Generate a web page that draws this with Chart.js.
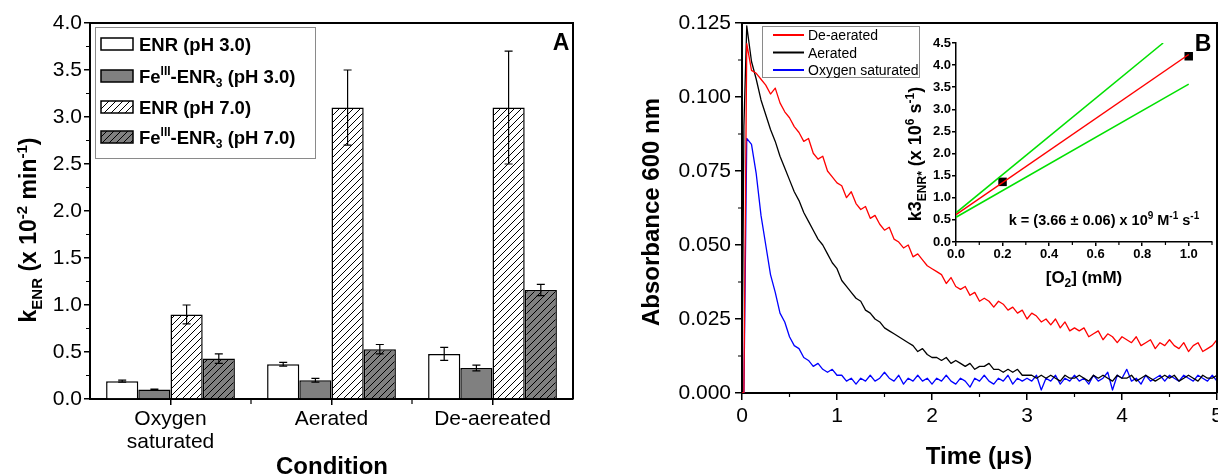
<!DOCTYPE html>
<html>
<head>
<meta charset="utf-8">
<script src="https://cdn.jsdelivr.net/npm/chart.js@4.4.1/dist/chart.umd.min.js"></script>
<style>
  html, body { margin: 0; padding: 0; background: #fff; }
  #wrap { position: relative; width: 1218px; height: 474px; overflow: hidden; }
  #wrap canvas { position: absolute; left: 0; top: 0; }
</style>
</head>
<body>
<div id="wrap">
  <canvas id="barChart" width="1218" height="474"></canvas>
  <canvas id="decayChart" width="1218" height="474"></canvas>
  <canvas id="insetChart" width="1218" height="474"></canvas>
</div>
<script>
'use strict';

// ---- panel A : k_ENR (x 10^-2 min^-1) per condition
const conditions = [['Oxygen', 'saturated'], 'Aerated', 'De-aereated'];
const enrPh3 = [0.19, 0.37, 0.48];
const enrPh3Err = [0.01, 0.02, 0.07];
const feEnrPh3 = [0.10, 0.20, 0.33];
const feEnrPh3Err = [0.005, 0.02, 0.03];
const enrPh7 = [0.90, 3.10, 3.10];
const enrPh7Err = [0.10, 0.40, 0.60];
const feEnrPh7 = [0.43, 0.53, 1.16];
const feEnrPh7Err = [0.05, 0.05, 0.06];

// ---- panel B : transient absorbance at 600 nm, time in us
const times = [
  0, 0.02,
  0.05, 0.10, 0.15, 0.20, 0.25, 0.30, 0.35, 0.40, 0.45, 0.50,
  0.55, 0.60, 0.65, 0.70, 0.75, 0.80, 0.85, 0.90, 0.95, 1.00,
  1.05, 1.10, 1.15, 1.20, 1.25, 1.30, 1.35, 1.40, 1.45, 1.50,
  1.55, 1.60, 1.65, 1.70, 1.75, 1.80, 1.85, 1.90, 1.95, 2.00,
  2.05, 2.10, 2.15, 2.20, 2.25, 2.30, 2.35, 2.40, 2.45, 2.50,
  2.55, 2.60, 2.65, 2.70, 2.75, 2.80, 2.85, 2.90, 2.95, 3.00,
  3.05, 3.10, 3.15, 3.20, 3.25, 3.30, 3.35, 3.40, 3.45, 3.50,
  3.55, 3.60, 3.65, 3.70, 3.75, 3.80, 3.85, 3.90, 3.95, 4.00,
  4.05, 4.10, 4.15, 4.20, 4.25, 4.30, 4.35, 4.40, 4.45, 4.50,
  4.55, 4.60, 4.65, 4.70, 4.75, 4.80, 4.85, 4.90, 4.95, 5.00
];
const deaerated = [
  0, 0,
  0.118, 0.109, 0.108, 0.106, 0.104, 0.101, 0.103, 0.098, 0.095, 0.093,
  0.090, 0.088, 0.085, 0.086, 0.081, 0.079, 0.080, 0.075, 0.073, 0.071,
  0.070, 0.066, 0.068, 0.064, 0.062, 0.063, 0.059, 0.060, 0.057, 0.055,
  0.056, 0.052, 0.051, 0.049, 0.050, 0.046, 0.047, 0.045, 0.043, 0.042,
  0.041, 0.040, 0.037, 0.039, 0.036, 0.035, 0.036, 0.033, 0.034, 0.031,
  0.032, 0.031, 0.029, 0.031, 0.030, 0.028, 0.029, 0.027, 0.028, 0.025,
  0.027, 0.026, 0.024, 0.025, 0.023, 0.025, 0.022, 0.024, 0.021, 0.022,
  0.021, 0.022, 0.019, 0.020, 0.021, 0.018, 0.020, 0.019, 0.017, 0.019,
  0.018, 0.017, 0.019, 0.016, 0.017, 0.018, 0.015, 0.017, 0.016, 0.018,
  0.016, 0.015, 0.017, 0.014, 0.016, 0.017, 0.014, 0.015, 0.016, 0.018
];
const aerated = [
  0, 0.090,
  0.124, 0.112, 0.106, 0.099, 0.094, 0.089, 0.085, 0.080, 0.076, 0.072,
  0.068, 0.065, 0.061, 0.058, 0.055, 0.052, 0.050, 0.047, 0.044, 0.042,
  0.038, 0.036, 0.034, 0.032, 0.031, 0.028, 0.027, 0.025, 0.024, 0.022,
  0.021, 0.020, 0.019, 0.018, 0.017, 0.016, 0.014, 0.015, 0.013, 0.012,
  0.012, 0.011, 0.012, 0.010, 0.011, 0.010, 0.009, 0.010, 0.008, 0.009,
  0.009, 0.010, 0.008, 0.008, 0.007, 0.008, 0.007, 0.008, 0.006, 0.006,
  0.006, 0.005, 0.006, 0.005, 0.006, 0.005, 0.004, 0.006, 0.005, 0.005,
  0.006, 0.005, 0.004, 0.006, 0.005, 0.006, 0.005, 0.004, 0.006, 0.005,
  0.005, 0.006, 0.004, 0.005, 0.006, 0.005, 0.004, 0.005, 0.006, 0.005,
  0.006, 0.004, 0.005, 0.006, 0.005, 0.004, 0.006, 0.005, 0.005, 0.006
];
const oxygenSaturated = [
  0, 0,
  0.086, 0.084, 0.074, 0.060, 0.050, 0.040, 0.034, 0.027, 0.024, 0.019,
  0.016, 0.015, 0.012, 0.011, 0.009, 0.010, 0.008, 0.007, 0.008, 0.006,
  0.006, 0.004, 0.005, 0.003, 0.005, 0.004, 0.006, 0.004, 0.005, 0.007,
  0.005, 0.004, 0.006, 0.003, 0.005, 0.004, 0.006, 0.004, 0.005, 0.003,
  0.005, 0.004, 0.006, 0.004, 0.003, 0.005, 0.004, 0.002, 0.005, 0.004,
  0.006, 0.004, 0.003, 0.005, 0.004, 0.006, 0.003, 0.005, 0.004, 0.005,
  0.004, 0.006, 0.001, 0.005, 0.004, 0.006, 0.003, 0.005, 0.004, 0.006,
  0.004, 0.005, 0.003, 0.006, 0.004, 0.005, 0.007, 0.001, 0.006, 0.005,
  0.008, 0.004, 0.005, 0.003, 0.006, 0.004, 0.005, 0.006, 0.004, 0.006,
  0.005, 0.004, 0.006, 0.005, 0.004, 0.006, 0.005, 0.004, 0.006, 0.004
];

// ---- inset : k3 (x 10^6 s^-1) vs [O2] (mM)
const o2Conc = [0.2, 1.0];
const k3Enr = [1.36, 4.2];
const fitX = [0, 1.0];
const fitY = [0.62, 4.24];
const upperX = [0, 0.89];
const upperY = [0.66, 4.5];
const lowerX = [0, 1.0];
const lowerY = [0.56, 3.57];

const FONT = '"Liberation Sans", Arial, Helvetica, sans-serif';
Chart.defaults.font.family = FONT;
Chart.defaults.color = '#000';

function hatch(bg) {
  const c = document.createElement('canvas');
  c.width = 7; c.height = 7;
  const g = c.getContext('2d');
  g.fillStyle = bg;
  g.fillRect(0, 0, 7, 7);
  g.strokeStyle = '#000';
  g.lineWidth = 1;
  g.beginPath();
  g.moveTo(-1, 8); g.lineTo(8, -1);
  g.moveTo(-1, 1); g.lineTo(1, -1);
  g.moveTo(6, 8); g.lineTo(8, 6);
  g.stroke();
  return g.createPattern(c, 'repeat');
}

const pairs = (xs, ys) => xs.map((x, i) => ({ x: x, y: ys[i] }));

// text with super/subscripts, y is the visual middle
function richText(ctx, parts, x, y, o) {
  const size = o.size, small = o.small || Math.round(size * 0.65);
  const weight = o.bold ? 'bold ' : '';
  const segs = parts.map(p => Array.isArray(p) ? p : [p, '']);
  const fontOf = s => weight + (s[1] ? small : size) + 'px ' + FONT;
  ctx.save();
  ctx.translate(x, y);
  if (o.rot) ctx.rotate(o.rot);
  ctx.fillStyle = '#000';
  ctx.textBaseline = 'alphabetic';
  ctx.textAlign = 'left';
  let total = 0;
  segs.forEach(s => { ctx.font = fontOf(s); total += ctx.measureText(s[0]).width; });
  let cx = o.align === 'left' ? 0 : -total / 2;
  segs.forEach(s => {
    ctx.font = fontOf(s);
    let dy = size * 0.36;
    if (s[1] === 'sup') dy -= size * 0.42;
    if (s[1] === 'sub') dy += size * 0.24;
    ctx.fillText(s[0], cx, dy);
    cx += ctx.measureText(s[0]).width;
  });
  ctx.restore();
}

function minorTicks(chart, id, from, to, step, len) {
  const s = chart.scales[id], ctx = chart.ctx;
  ctx.save();
  ctx.strokeStyle = '#000';
  ctx.lineWidth = 1.2;
  ctx.beginPath();
  for (let v = from; v <= to + 1e-9; v += step) {
    const p = s.getPixelForValue(v);
    if (s.isHorizontal()) { ctx.moveTo(p, s.top); ctx.lineTo(p, s.top + len); }
    else { ctx.moveTo(s.right, p); ctx.lineTo(s.right - len, p); }
  }
  ctx.stroke();
  ctx.restore();
}

function frame(chart) {
  const a = chart.chartArea, ctx = chart.ctx;
  ctx.save();
  ctx.strokeStyle = '#000';
  ctx.lineWidth = 2;
  ctx.beginPath();
  ctx.moveTo(a.left, a.top); ctx.lineTo(a.right, a.top); ctx.lineTo(a.right, a.bottom);
  ctx.stroke();
  ctx.restore();
}

function axisStyle(tickLen, width) {
  return {
    grid: { drawOnChartArea: false, drawTicks: true, tickLength: tickLen, color: '#000', lineWidth: 1.5 },
    border: { display: true, color: '#000', width: width }
  };
}

// ---------------- panel A
const barLegend = [
  { ds: 0, y: 44, parts: ['ENR (pH 3.0)'] },
  { ds: 1, y: 76, parts: ['Fe', ['III', 'sup'], '-ENR', ['3', 'sub'], ' (pH 3.0)'] },
  { ds: 2, y: 107, parts: ['ENR (pH 7.0)'] },
  { ds: 3, y: 137, parts: ['Fe', ['III', 'sup'], '-ENR', ['3', 'sub'], ' (pH 7.0)'] }
];

const barDecor = {
  id: 'barDecor',
  afterDatasetsDraw(chart) {
    const ctx = chart.ctx, y = chart.scales.y;
    ctx.save();
    ctx.strokeStyle = '#000';
    ctx.lineWidth = 1.2;
    chart.data.datasets.forEach((ds, i) => {
      chart.getDatasetMeta(i).data.forEach((bar, j) => {
        const top = y.getPixelForValue(ds.data[j] + ds.errors[j]);
        const bot = y.getPixelForValue(ds.data[j] - ds.errors[j]);
        ctx.beginPath();
        ctx.moveTo(bar.x, top); ctx.lineTo(bar.x, bot);
        ctx.moveTo(bar.x - 4, top); ctx.lineTo(bar.x + 4, top);
        ctx.moveTo(bar.x - 4, bot); ctx.lineTo(bar.x + 4, bot);
        ctx.stroke();
      });
    });
    ctx.restore();
  },
  afterDraw(chart) {
    const ctx = chart.ctx;
    frame(chart);
    minorTicks(chart, 'y', 0.25, 3.75, 0.5, 4);
    minorTicks(chart, 'x', 0.5, 1.5, 1, 5);

    // legend
    ctx.save();
    ctx.fillStyle = '#fff';
    ctx.fillRect(95, 27, 220, 131);
    ctx.strokeStyle = '#8a8a8a';
    ctx.lineWidth = 1;
    ctx.strokeRect(95.5, 27.5, 220, 131);
    barLegend.forEach(item => {
      ctx.fillStyle = chart.data.datasets[item.ds].backgroundColor;
      ctx.fillRect(101, item.y - 6, 32, 12);
      ctx.strokeStyle = '#000';
      ctx.lineWidth = 1.5;
      ctx.strokeRect(101, item.y - 6, 32, 12);
      richText(ctx, item.parts, 139, item.y, { size: 18.5, small: 12, bold: true, align: 'left' });
    });
    ctx.restore();

    richText(ctx, ['k', ['ENR', 'sub'], ' (x 10', ['-2', 'sup'], ' min', ['-1', 'sup'], ')'],
      28, 230, { size: 23, small: 15, bold: true, rot: -Math.PI / 2 });
    richText(ctx, ['Condition'], 332, 465, { size: 24, bold: true });
    richText(ctx, ['A'], 561, 42, { size: 23, bold: true });
  }
};

new Chart(document.getElementById('barChart'), {
  type: 'bar',
  data: {
    labels: conditions,
    datasets: [
      { label: 'ENR (pH 3.0)', data: enrPh3, errors: enrPh3Err, backgroundColor: '#ffffff' },
      { label: 'FeIII-ENR3 (pH 3.0)', data: feEnrPh3, errors: feEnrPh3Err, backgroundColor: '#808080' },
      { label: 'ENR (pH 7.0)', data: enrPh7, errors: enrPh7Err, backgroundColor: hatch('#ffffff') },
      { label: 'FeIII-ENR3 (pH 7.0)', data: feEnrPh7, errors: feEnrPh7Err, backgroundColor: hatch('#808080') }
    ]
  },
  options: {
    responsive: false,
    animation: false,
    events: [],
    layout: { padding: { left: 0, top: 23, right: 645, bottom: 0 } },
    datasets: { bar: { categoryPercentage: 0.8, barPercentage: 1.0, borderColor: '#000', borderWidth: 1.5 } },
    plugins: { legend: { display: false }, tooltip: { enabled: false } },
    scales: {
      x: Object.assign(axisStyle(6, 2), {
        ticks: { font: { size: 21, lineHeight: 1.1 }, padding: 3, maxRotation: 0 },
        afterFit: s => { s.height = 75; s.paddingLeft = 0; s.paddingRight = 0; }
      }),
      y: Object.assign(axisStyle(6, 2), {
        min: 0, max: 4,
        ticks: { stepSize: 0.5, font: { size: 21 }, padding: 2, callback: v => v.toFixed(1) },
        afterFit: s => { s.width = 90; s.paddingTop = 0; s.paddingBottom = 0; }
      })
    }
  },
  plugins: [barDecor]
});
// category grid offset off so tick marks sit under each group
Chart.getChart('barChart').options.scales.x.grid.offset = false;
Chart.getChart('barChart').update();

// ---------------- panel B
const decayLegend = [
  { ds: 0, y: 35, text: 'De-aerated' },
  { ds: 1, y: 52.5, text: 'Aerated' },
  { ds: 2, y: 70, text: 'Oxygen saturated' }
];

const decayDecor = {
  id: 'decayDecor',
  afterDraw(chart) {
    const ctx = chart.ctx;
    frame(chart);
    minorTicks(chart, 'x', 0.5, 4.5, 1, 4);
    minorTicks(chart, 'y', 0.0125, 0.1125, 0.025, 4);

    ctx.save();
    ctx.fillStyle = '#fff';
    ctx.fillRect(762, 26, 157, 51);
    ctx.strokeStyle = '#8a8a8a';
    ctx.lineWidth = 1;
    ctx.strokeRect(762.5, 26.5, 157, 51);
    decayLegend.forEach(item => {
      ctx.strokeStyle = chart.data.datasets[item.ds].borderColor;
      ctx.lineWidth = 2;
      ctx.beginPath();
      ctx.moveTo(773, item.y); ctx.lineTo(804, item.y);
      ctx.stroke();
      richText(ctx, [item.text], 808, item.y, { size: 14, align: 'left' });
    });
    ctx.restore();

    richText(ctx, ['Absorbance 600 nm'], 650, 212, { size: 24, bold: true, rot: -Math.PI / 2 });
    richText(ctx, ['Time (\u03bcs)'], 979, 455, { size: 24, bold: true });
  }
};

new Chart(document.getElementById('decayChart'), {
  type: 'line',
  data: {
    datasets: [
      { label: 'De-aerated', data: pairs(times, deaerated), borderColor: '#ff0000' },
      { label: 'Aerated', data: pairs(times, aerated), borderColor: '#000000' },
      { label: 'Oxygen saturated', data: pairs(times, oxygenSaturated), borderColor: '#0000ff' }
    ]
  },
  options: {
    responsive: false,
    animation: false,
    events: [],
    layout: { padding: { left: 0, top: 23, right: 1, bottom: 0 } },
    datasets: { line: { pointRadius: 0, borderWidth: 1.3, tension: 0, borderJoinStyle: 'round' } },
    plugins: { legend: { display: false }, tooltip: { enabled: false } },
    scales: {
      x: Object.assign(axisStyle(7, 2), {
        type: 'linear', min: 0, max: 5,
        ticks: { stepSize: 1, font: { size: 21 }, padding: 4, maxRotation: 0, callback: v => String(v) },
        afterFit: s => { s.height = 81; s.paddingLeft = 0; s.paddingRight = 0; }
      }),
      y: Object.assign(axisStyle(7, 2), {
        min: 0, max: 0.125,
        ticks: { stepSize: 0.025, font: { size: 21 }, padding: 4, callback: v => v.toFixed(3) },
        afterFit: s => { s.width = 742; s.paddingTop = 0; s.paddingBottom = 0; }
      })
    }
  },
  plugins: [decayDecor]
});

// ---------------- inset
const insetDecor = {
  id: 'insetDecor',
  afterDraw(chart) {
    const ctx = chart.ctx;
    minorTicks(chart, 'x', 0.1, 1.1, 0.2, 3);
    richText(ctx, ['k3', ['ENR*', 'sub'], ' (x 10', ['6', 'sup'], ' s', ['-1', 'sup'], ')'],
      915, 154, { size: 18, small: 12, bold: true, rot: -Math.PI / 2 });
    richText(ctx, ['[O', ['2', 'sub'], '] (mM)'], 1084, 277, { size: 17, small: 12, bold: true });
    richText(ctx, ['k = (3.66 \u00b1 0.06) x 10', ['9', 'sup'], ' M', ['-1', 'sup'], ' s', ['-1', 'sup']],
      1104, 220, { size: 14.5, small: 10, bold: true });
    richText(ctx, ['B'], 1203, 43, { size: 23, bold: true });
  }
};

new Chart(document.getElementById('insetChart'), {
  type: 'scatter',
  data: {
    datasets: [
      { label: 'fit', data: pairs(fitX, fitY), showLine: true, pointRadius: 0, borderColor: '#ff0000', borderWidth: 1.5 },
      { label: 'upper', data: pairs(upperX, upperY), showLine: true, pointRadius: 0, borderColor: '#00e000', borderWidth: 1.5 },
      { label: 'lower', data: pairs(lowerX, lowerY), showLine: true, pointRadius: 0, borderColor: '#00e000', borderWidth: 1.5 },
      { label: 'k3', data: pairs(o2Conc, k3Enr), pointStyle: 'rect', pointRadius: 6, backgroundColor: '#000', borderColor: '#000', borderWidth: 0 }
    ]
  },
  options: {
    responsive: false,
    animation: false,
    events: [],
    layout: { padding: { left: 0, top: 43, right: 5, bottom: 0 } },
    plugins: { legend: { display: false }, tooltip: { enabled: false } },
    scales: {
      x: Object.assign(axisStyle(4, 1.5), {
        type: 'linear', min: 0, max: 1.1,
        ticks: { stepSize: 0.2, includeBounds: false, font: { size: 13, weight: 'bold' }, padding: 1, maxRotation: 0,
          callback: v => v.toFixed(1) },
        afterFit: s => { s.height = 232; s.paddingLeft = 0; s.paddingRight = 0; }
      }),
      y: Object.assign(axisStyle(4, 1.5), {
        min: 0, max: 4.5,
        ticks: { stepSize: 0.5, font: { size: 13, weight: 'bold' }, padding: 1, callback: v => v.toFixed(1) },
        afterFit: s => { s.width = 956; s.paddingTop = 0; s.paddingBottom = 0; }
      })
    }
  },
  plugins: [insetDecor]
});
</script>
</body>
</html>
